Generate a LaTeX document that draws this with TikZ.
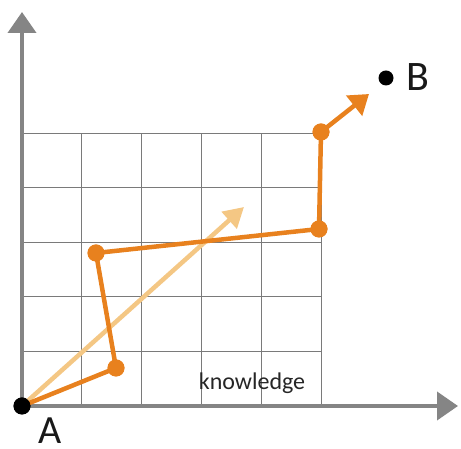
\documentclass[tikz,border=0pt]{standalone}
\usepackage{fontspec}
\setmainfont{Carlito}
\usetikzlibrary{arrows.meta, positioning, calc}

\definecolor{axisgray}{HTML}{858585}
\definecolor{gridgray}{HTML}{7A7A7A}
\definecolor{pathorange}{HTML}{E8811E}
\definecolor{lightorange}{HTML}{F4C784}

\begin{document}
\begin{tikzpicture}[x=1pt, y=1pt,
    axis/.style={line width=4pt, axisgray, -{Triangle[width=28pt, length=21pt]}},
    gridline/.style={gridgray, line width=0.8pt},
    dot/.style={circle, fill=pathorange, inner sep=0pt, minimum size=17pt},
    enddot/.style={circle, fill=black, inner sep=0pt, minimum size=17pt},
    route/.style={line width=4.5pt, pathorange, line join=round}]
  \useasboundingbox (0,0) rectangle (461,449);

  % Grid (5 x 5 cells)
  \foreach \i in {0,...,5}
    \draw[gridline] (22+59.8*\i, 43) -- (22+59.8*\i, 316);
  \foreach \j in {1,...,5}
    \draw[gridline] (22, 43+54.6*\j) -- (321, 43+54.6*\j);

  % Axes
  \coordinate (yend) at (22, 437);
  \coordinate (xend) at (458, 43);
  \draw[axis] (22, 43) -- (yend);
  \draw[axis] (22, 43) -- (xend);

  % Points of the route
  \node[enddot] (a) at (22, 43) {};
  \node[dot] (p1) at (116, 81) {};
  \node[dot] (p2) at (96, 196) {};
  \node[dot] (p3) at (319, 220) {};
  \node[dot] (p4) at (321, 317) {};
  \coordinate (tip) at (369, 355);
  \coordinate (direct) at (244, 242);
  \node[circle, fill=black, inner sep=0pt, minimum size=15pt] (b) at (386, 371) {};

  % Direct arrow
  \draw[line width=4.5pt, lightorange, -{Triangle[width=22pt, length=20pt]}]
    (a.center) -- (direct);

  % Route
  \draw[route] (a.center) -- (p1.center) -- (p2.center) -- (p3.center)
    -- (p4.center);
  \draw[route, -{Triangle[width=25pt, length=19pt]}] (p4.center) -- (tip);
  \node[dot] at (p1) {};
  \node[dot] at (p2) {};
  \node[dot] at (p3) {};
  \node[dot] at (p4) {};
  \node[enddot] at (a) {};

  % Labels
  \node[font=\fontsize{24}{24}\selectfont, text=black!85] (know) at (252, 66) {knowledge};
  \node[font=\fontsize{42}{42}\selectfont, text=black!90, anchor=west] (blabel)
    at (403, 372) {B};
  \node[font=\fontsize{40}{40}\selectfont, text=black!90, anchor=base,
    inner sep=0pt] (alabel) at (50, 5) {A};
\end{tikzpicture}
\end{document}
